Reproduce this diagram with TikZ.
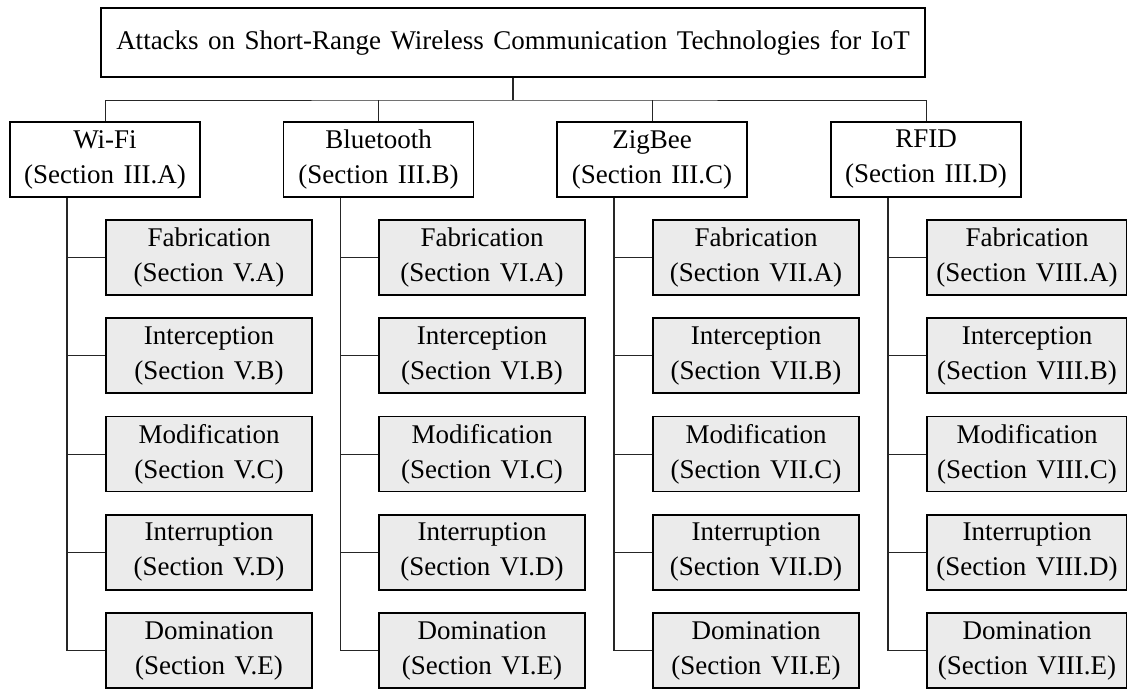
\documentclass[tikz,border=0pt]{standalone}
\usepackage{fontspec}
\setmainfont[WordSpace=1.4]{Liberation Serif}
\begin{document}
\begin{tikzpicture}[x=1pt,y=-1pt,
  every node/.style={font=\fontsize{27}{35}\selectfont, align=center, inner sep=0pt},
  rootbox/.style={draw, line width=1.6pt, minimum width=824pt, minimum height=69pt},
  techbox/.style={draw, line width=1.6pt, minimum width=190pt, minimum height=75pt},
  attbox/.style={draw, line width=1.6pt, fill=black!8, minimum width=206pt, minimum height=75pt},
  wire/.style={line width=0.9pt, black!85}]
\useasboundingbox (0,0) rectangle (1127,689);

% root
\node[rootbox] (root) at (513,42.5) {Attacks on Short-Range Wireless Communication Technologies for IoT};

% technologies
\node[techbox] (wifi) at (105,159.5) {Wi-Fi\\(Section III.A)};
\node[techbox] (bt)   at (378.5,159.5) {Bluetooth\\(Section III.B)};
\node[techbox] (zb)   at (652,159.5) {ZigBee\\(Section III.C)};
\node[techbox] (rfid) at (926,159.5) {RFID\\(Section III.D)};

% bus between root and technologies
\coordinate (bus) at (513,100);
\draw[wire, line width=1.4pt] (root.south) -- (bus);
\draw[wire] (wifi.north) |- (bus) -| (rfid.north);
\draw[wire] (bt.north) -- (bt.north |- bus);
\draw[wire] (zb.north) -- (zb.north |- bus);

% attack categories per technology
\foreach \t/\cx/\w/\r in {wifi/209/206/V, bt/482/206/VI, zb/756/206/VII, rfid/1027/200/VIII}{
  \node[attbox, minimum width=\w pt] (\t-a) at (\cx,257.5)  {Fabrication\\(Section \r.A)};
  \node[attbox, minimum width=\w pt] (\t-b) at (\cx,355.75) {Interception\\(Section \r.B)};
  \node[attbox, minimum width=\w pt] (\t-c) at (\cx,454)    {Modification\\(Section \r.C)};
  \node[attbox, minimum width=\w pt] (\t-d) at (\cx,552.25) {Interruption\\(Section \r.D)};
  \node[attbox, minimum width=\w pt] (\t-e) at (\cx,650.5)  {Domination\\(Section \r.E)};
  \coordinate (\t-trunk) at ([xshift=-38pt]\t.south);
  \draw[wire, line width=1.2pt] (\t-trunk) |- (\t-e.west);
  \foreach \k in {a,b,c,d}{
    \draw[wire] (\t-trunk |- \t-\k.west) -- (\t-\k.west);
  }
}
\end{tikzpicture}
\end{document}
